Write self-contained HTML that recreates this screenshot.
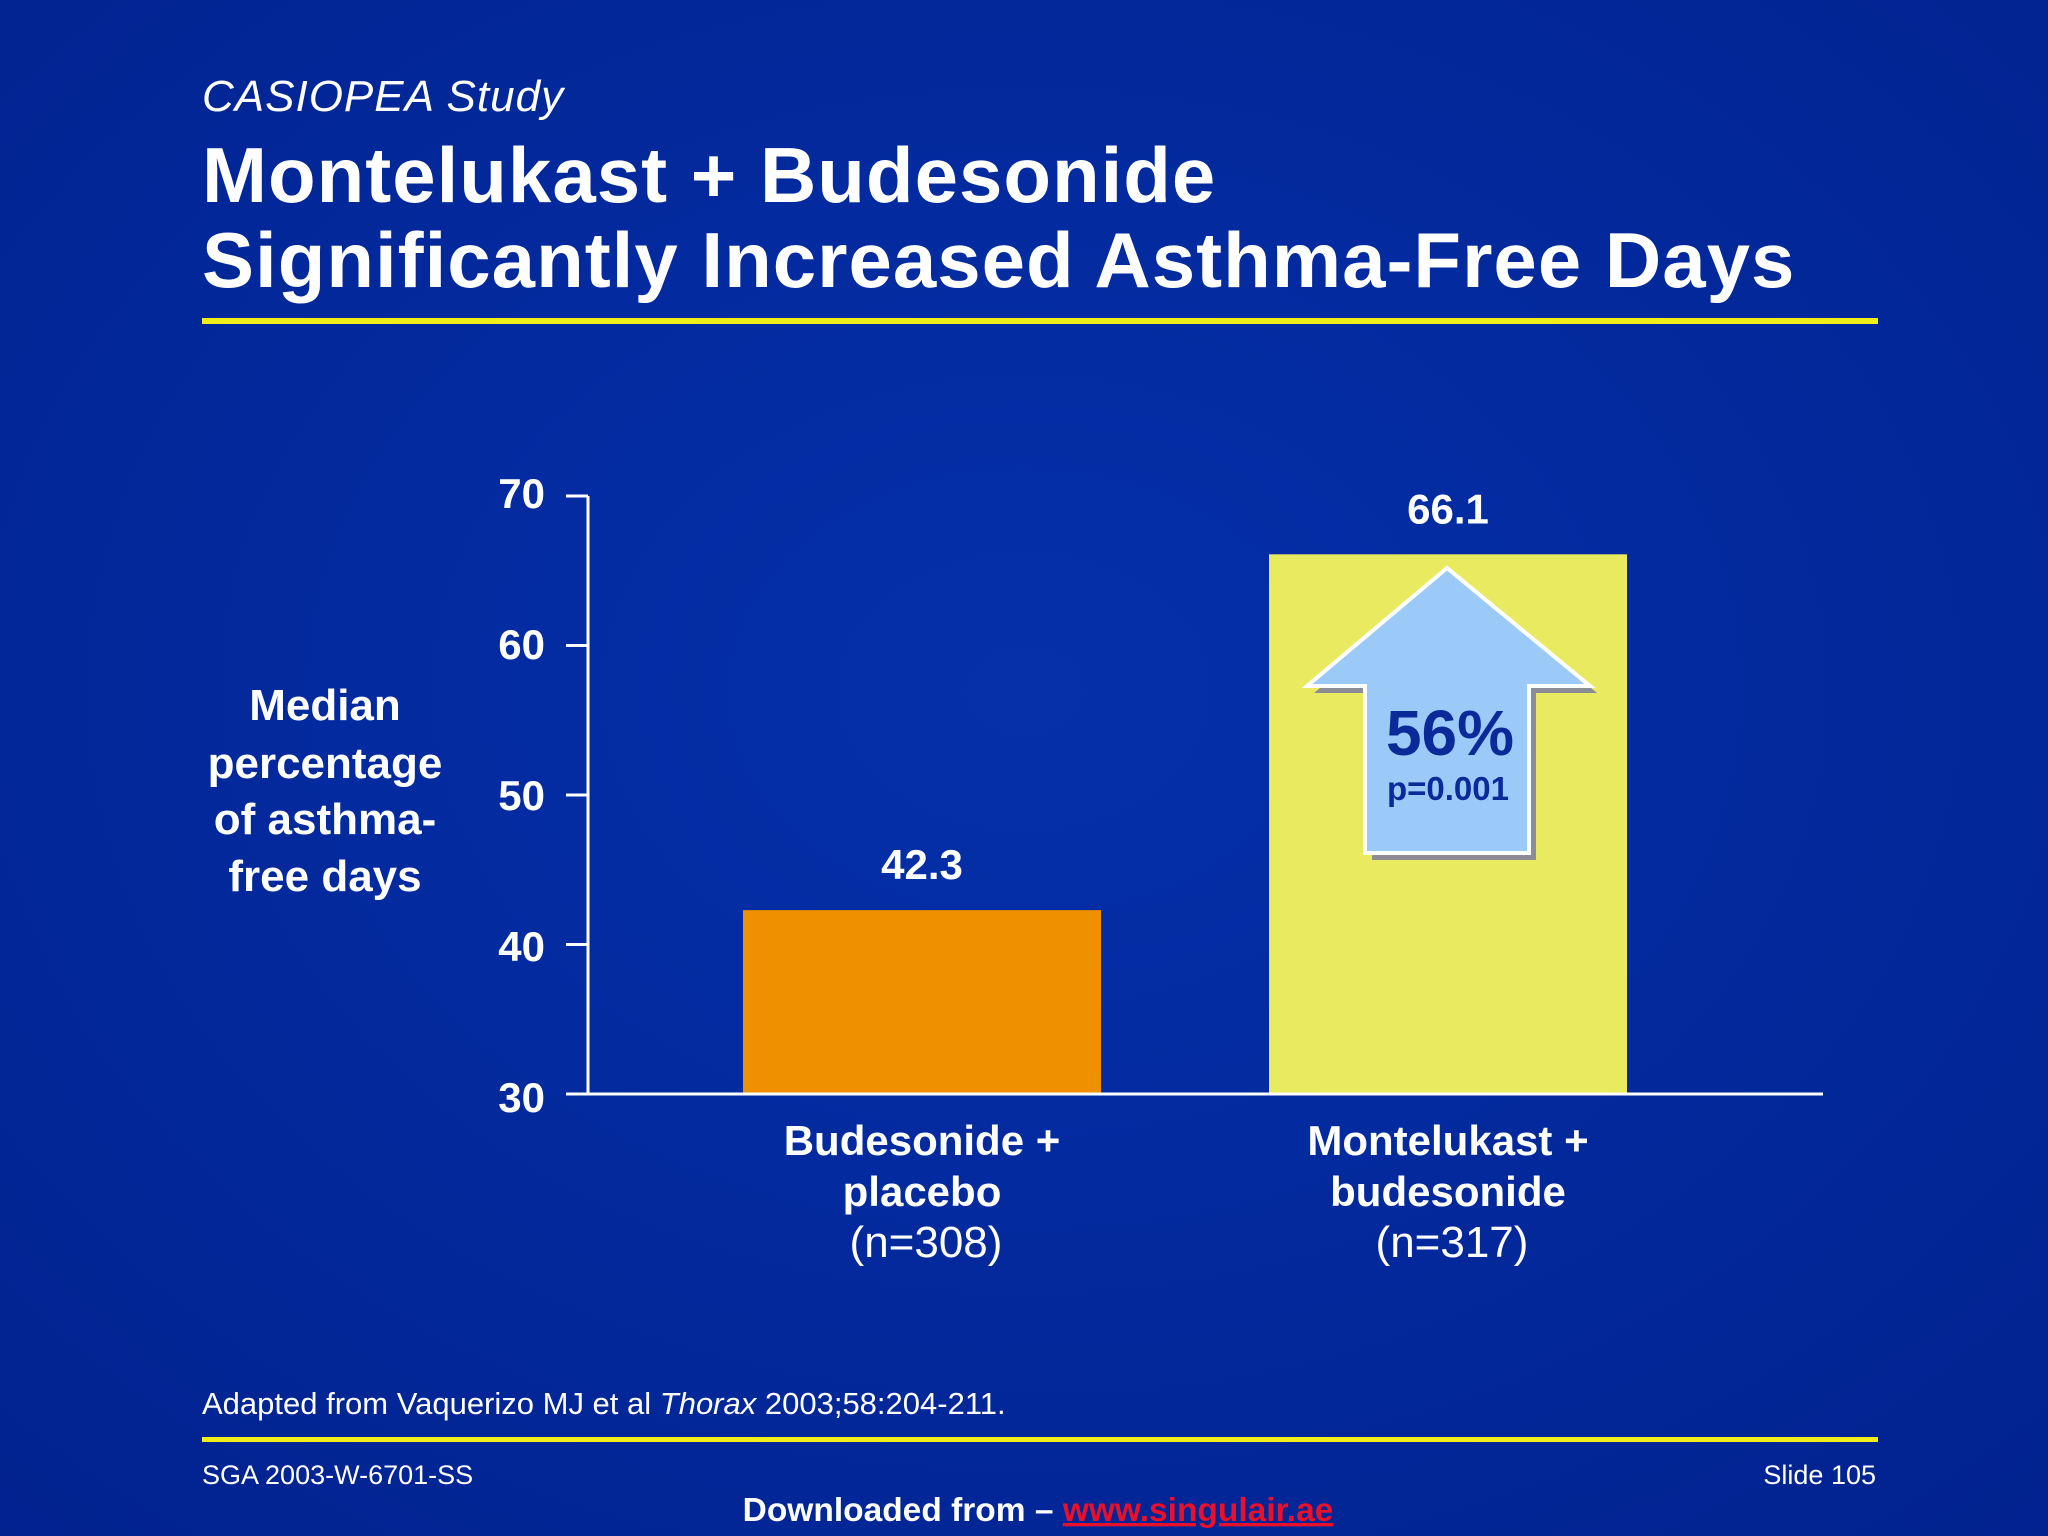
<!DOCTYPE html>
<html><head><meta charset="utf-8"><style>
html,body{margin:0;padding:0;background:#0228a0;}
svg{display:block;font-family:"Liberation Sans",sans-serif;}
</style></head><body>
<svg id="chart" width="2048" height="1536" viewBox="0 0 2048 1536" xmlns="http://www.w3.org/2000/svg">
<defs><radialGradient id="bg" cx="50%" cy="45%" r="75%"><stop offset="0" stop-color="#0530aa"/><stop offset="1" stop-color="#01228f"/></radialGradient></defs>
<rect width="2048" height="1536" fill="url(#bg)"/>
<text x="202" y="111" font-size="44" font-style="italic" letter-spacing="1" fill="#fff">CASIOPEA Study</text>
<text x="202" y="202" font-size="78" font-weight="bold" letter-spacing="1" fill="#fff">Montelukast + Budesonide</text>
<text x="202" y="287" font-size="78" font-weight="bold" letter-spacing="1" fill="#fff">Significantly Increased Asthma-Free Days</text>
<rect x="202" y="318" width="1676" height="6" fill="#f2ee1a"/>
<g id="plot"></g>
<g font-size="44" font-weight="bold" fill="#fff" text-anchor="middle">
<text x="325" y="720">Median</text><text x="325" y="778">percentage</text><text x="325" y="834">of asthma-</text><text x="325" y="891">free days</text></g>
<g>
<polygon points="1454,575 1597,693 1536,693 1536,860 1372,860 1372,693 1314,693" fill="#8c8c96"/>
<polygon points="1447,568 1590,686 1529,686 1529,853 1365,853 1365,686 1307,686" fill="#9ccaf8" stroke="#fff" stroke-width="4"/>
<text x="1450" y="755" font-size="64" font-weight="bold" fill="#0a2a9a" text-anchor="middle">56%</text>
<text x="1448" y="800" font-size="33" font-weight="bold" fill="#0a2a9a" text-anchor="middle">p=0.001</text>
</g>
<text x="202" y="1414" font-size="31" fill="#fff">Adapted from Vaquerizo MJ et al <tspan font-style="italic">Thorax</tspan> 2003;58:204-211.</text>
<rect x="202" y="1437" width="1676" height="5" fill="#f2ee1a"/>
<text x="202" y="1484" font-size="27" fill="#fff">SGA 2003-W-6701-SS</text>
<text x="1876" y="1484" font-size="27" fill="#fff" text-anchor="end">Slide 105</text>
<text x="1038" y="1521" font-size="33.5" font-weight="bold" fill="#fff" text-anchor="middle">Downloaded from – <tspan fill="#e8102a" text-decoration="underline">www.singulair.ae</tspan></text>
</svg>
<script>
const categories = [["Budesonide +","placebo","(n=308)"],["Montelukast +","budesonide","(n=317)"]];
const values = [42.3, 66.1];
const valueLabels = ["42.3","66.1"];
const yTicks = [30,40,50,60,70];
const barColors = ["#ee9000","#eaea60"];
const NS="http://www.w3.org/2000/svg";
const g=document.getElementById('plot');
const x0=588,x1=1823,yTop=496,yBot=1094,vMin=30,vMax=70;
function y(v){return yBot-(v-vMin)/(vMax-vMin)*(yBot-yTop);}
const centers=[922,1448], bw=358;
function mk(t,a){const e=document.createElementNS(NS,t);for(const k in a)e.setAttribute(k,a[k]);return e;}
values.forEach((v,i)=>{
 const r=mk('rect',{x:centers[i]-bw/2,y:y(v),width:bw,height:yBot-y(v),fill:barColors[i]});
 
 
 g.insertBefore(r,g.firstChild);
 const t=mk('text',{x:centers[i],y:y(v)-31,'font-size':42,'font-weight':'bold',fill:'#fff','text-anchor':'middle'});
 t.textContent=valueLabels[i];
 
 
 g.appendChild(t);
 categories[i].forEach((line,j)=>{
  const c=mk('text',{x:centers[i]+(j==2?4:0),y:1155+j*51,'font-size':j==2?44:42,'font-weight':j==2?'normal':'bold',fill:'#fff','text-anchor':'middle'});
  c.textContent=line;
  
  
  g.appendChild(c);
 });
});
const ax=mk('path',{d:`M${x0},${yTop} V${yBot} H${x1}`,stroke:'#fff','stroke-width':3,fill:'none'});


g.appendChild(ax);
yTicks.forEach(v=>{
 const l=mk('line',{x1:x0-22,x2:x0,y1:y(v),y2:y(v),stroke:'#fff','stroke-width':3});
 
 
 g.appendChild(l);
 const t=mk('text',{x:545,y:y(v)+12+(70-v)*0.15,'font-size':42,'font-weight':'bold',fill:'#fff','text-anchor':'end'});
 t.textContent=v;
 
 
 g.appendChild(t);
});
</script>
</body></html>
